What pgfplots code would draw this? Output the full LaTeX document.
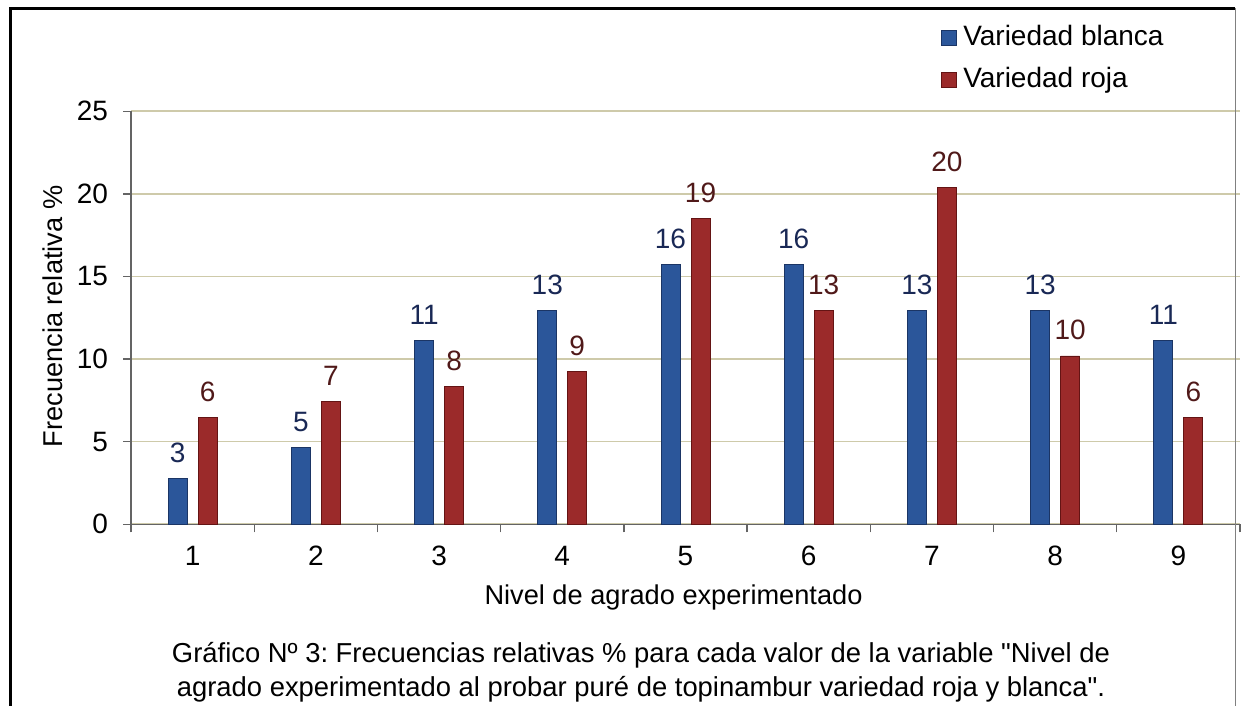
\documentclass[border=0pt]{standalone}
\usepackage{fontspec}
\setmainfont{Liberation Sans}
\newfontfamily\qfont{Liberation Sans}
\usepackage{pgfplots}
\usepackage{pgfplotstable}
\pgfplotsset{compat=1.18}
\definecolor{barblue}{RGB}{43,86,154}
\definecolor{barblueedge}{RGB}{27,53,101}
\definecolor{barred}{RGB}{155,42,42}
\definecolor{barrededge}{RGB}{100,20,20}
\definecolor{lblblue}{RGB}{25,40,85}
\definecolor{lblred}{RGB}{80,25,25}
\definecolor{gridc}{RGB}{206,202,170}
\definecolor{axisc}{RGB}{100,100,100}
\newcommand\fs{\fontsize{14}{16}\selectfont}
\newcommand\dq{{\qfont\char34}}
\pgfplotstableread{
x blanca roja
1 2.78 6.48
2 4.63 7.41
3 11.11 8.33
4 12.96 9.26
5 15.74 18.52
6 15.74 12.96
7 12.96 20.37
8 12.96 10.19
9 11.11 6.48
}\datos
\begin{document}
\frenchspacing
\begin{tikzpicture}
\useasboundingbox (0,0) rectangle (620.5pt,353pt);
\begin{axis}[
 at={(65.5pt,90.85pt)}, anchor=south west,
 scale only axis, width=554.5pt, height=206.5pt,
 xmin=0.5, xmax=9.5, ymin=0, ymax=25,
 ytick={0,5,...,25},
 xtick={1,...,9},
 minor xtick={0.5,1.5,...,9.5},
 major x tick style={draw=none},
 axis x line*=bottom, axis y line*=left,
 axis line style={-, axisc, line width=0.7pt},
 tick style={axisc, line width=0.7pt},
 tick align=outside,
 major tick length=4pt, minor tick length=4pt,
 ymajorgrids, grid style={gridc, line width=0.8pt},
 ticklabel style={font=\fs},
 yticklabel style={xshift=-4pt},
 xticklabel style={yshift=-3.5pt},
 /pgf/number format/assume math mode=true,
 clip=false,
 legend style={draw=none, fill=none, at={(0.73,1.208)}, anchor=north west,
   inner sep=0pt, row sep=8pt, column sep=2pt, font=\fs,
   nodes={inner xsep=1.25pt, inner ysep=0pt, text height=10pt, text depth=3pt}},
 legend cell align=left,
 legend image code/.code={\path[draw=none, fill=none] (0pt,-6pt) rectangle (0.01pt,6pt); \draw[#1] (0pt,-3.1pt) rectangle (7.5pt,4.4pt);},
]
\addplot[ybar, bar width=9.5pt, bar shift=-7.5pt, fill=barblue, draw=barblueedge,
  nodes near coords={\pgfmathprintnumber[fixed,precision=0]{\pgfplotspointmeta}},
  every node near coord/.append style={font=\fs, text=lblblue, anchor=base, yshift=8pt, xshift=-7.5pt}]
  table[x=x, y=blanca] {\datos};
\addlegendentry{Variedad blanca}
\addplot[ybar, bar width=9.5pt, bar shift=7.5pt, fill=barred, draw=barrededge,
  nodes near coords={\pgfmathprintnumber[fixed,precision=0]{\pgfplotspointmeta}},
  every node near coord/.append style={font=\fs, text=lblred, anchor=base, yshift=8pt, xshift=7.5pt}]
  table[x=x, y=roja] {\datos};
\addlegendentry{Variedad roja}
\end{axis}
\node[font=\fontsize{13.6}{16}\selectfont, anchor=base] at (336.75pt,50.5pt) {Nivel de agrado experimentado};
\node[font=\fontsize{13.6}{16}\selectfont, anchor=base, rotate=90] at (31.35pt,194.75pt) {Frecuencia relativa \%};
\node[font=\fontsize{13.7}{16}\selectfont, anchor=base] at (320.5pt,21.5pt) {Gráfico Nº 3: Frecuencias relativas \% para cada valor de la variable \dq Nivel de};
\node[font=\fontsize{13.7}{16}\selectfont, anchor=base] at (320.5pt,5pt) {agrado experimentado al probar puré de topinambur variedad roja y blanca\dq.};
\draw[black, line width=1.5pt] (5pt,0) -- (5pt,348.75pt) -- (617.5pt,348.75pt);
\draw[gray, line width=0.5pt] (617.5pt,348.75pt) -- (617.5pt,0);
\end{tikzpicture}
\end{document}
